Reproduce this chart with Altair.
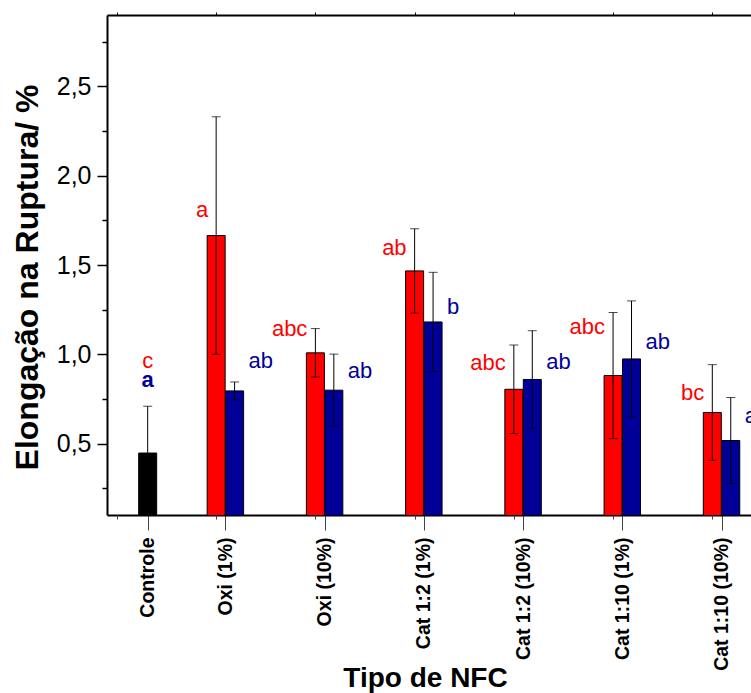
import altair as alt
import pandas as pd

# ---------------- data ----------------
categories = ["Controle", "Oxi (1%)", "Oxi (10%)", "Cat 1:2 (1%)",
              "Cat 1:2 (10%)", "Cat 1:10 (1%)", "Cat 1:10 (10%)"]

control_mean = 0.447
control_err = 0.262

red_means = [1.665, 1.008, 1.467, 0.804, 0.881, 0.674]
red_errs = [0.665, 0.136, 0.236, 0.248, 0.353, 0.268]
blue_means = [0.795, 0.799, 1.181, 0.859, 0.974, 0.517]
blue_errs = [0.050, 0.202, 0.278, 0.273, 0.325, 0.241]

red_letters = ["a", "abc", "ab", "abc", "abc", "bc"]
red_letter_y = [1.769, 1.101, 1.555, 0.911, 1.112, 0.743]
blue_letters = ["ab", "ab", "b", "ab", "ab", "ab"]
blue_letter_y = [0.922, 0.866, 1.224, 0.916, 1.028, 0.614]
control_letters = ["c", "a"]
control_letter_y = [0.922, 0.815]

y_major = [0.5, 1.0, 1.5, 2.0, 2.5]
y_minor = [0.25, 0.75, 1.25, 1.75, 2.25, 2.75]

# ---------------- layout helpers ----------------
BAR_OFFSET = 0.186
CONTROL_POS = 0.31
FONT = "Liberation Sans"
RED = "#FF0000"
BLUE = "#000099"

rows = [dict(pos=CONTROL_POS, mean=control_mean, lo=control_mean - control_err,
             hi=control_mean + control_err, series="control")]
for i in range(len(red_means)):
    rows.append(dict(pos=i + 1, mean=red_means[i], lo=red_means[i] - red_errs[i],
                     hi=red_means[i] + red_errs[i], series="red"))
    rows.append(dict(pos=i + 1 + BAR_OFFSET, mean=blue_means[i], lo=blue_means[i] - blue_errs[i],
                     hi=blue_means[i] + blue_errs[i], series="blue"))
bars_df = pd.DataFrame(rows)

red_txt = pd.DataFrame({"pos": [i + 1 for i in range(6)], "y": red_letter_y, "t": red_letters})
blue_txt = pd.DataFrame({"pos": [i + 1 + BAR_OFFSET for i in range(6)], "y": blue_letter_y, "t": blue_letters})
ctrl_red = pd.DataFrame({"pos": [CONTROL_POS], "y": [control_letter_y[0]], "t": [control_letters[0]]})
ctrl_blue = pd.DataFrame({"pos": [CONTROL_POS], "y": [control_letter_y[1]], "t": [control_letters[1]]})

label_pos = [CONTROL_POS] + [i + 1 + BAR_OFFSET / 2 for i in range(6)]
label_expr = "[" + ",".join("'" + c + "'" for c in categories) + "][round(datum.value)]"

xs = alt.Scale(domain=[-0.1, 6.39], nice=False, zero=False, padding=0)
ys = alt.Scale(domain=[0.1, 2.9], nice=False, zero=False, padding=0)

x_axis = alt.Axis(
    orient="bottom", values=label_pos, labelExpr=label_expr,
    labelAngle=270, labelAlign="right", labelBaseline="middle",
    labelFont=FONT, labelFontWeight="bold", labelFontSize=19.5, labelColor="black",
    labelPadding=7, labelOverlap=False, labelFlush=False, labelBound=False,
    tickSize=15, tickColor="#444", tickWidth=1,
    domainColor="black", domainWidth=2, grid=False,
    title="Tipo de NFC", titleFont=FONT, titleFontSize=28, titleFontWeight="bold",
    titleColor="black", titleX=318, titleY=171, titleBaseline="alphabetic", titleAlign="center",
)

y_axis = alt.Axis(
    orient="left", values=y_major, format=".1f",
    labelExpr="replace(format(datum.value, '.1f'), '.', ',')",
    tickSize=10, tickColor="black", tickWidth=1.5, domainColor="black", domainWidth=2, grid=False,
    labelFont=FONT, labelFontSize=25, labelColor="black", labelPadding=6,
    title="Elongação na Ruptura/ %", titleFont=FONT, titleFontSize=32, titleFontWeight="bold",
    titleColor="black", titleAngle=270, titleX=-80, titleY=262, titleAlign="center",
    titleBaseline="middle",
)

color = alt.Color("series:N", scale=alt.Scale(domain=["control", "red", "blue"],
                                               range=["#000000", RED, BLUE]), legend=None)

bars = alt.Chart(bars_df).mark_bar(size=18, stroke="black", strokeWidth=1, clip=True).encode(
    x=alt.X("pos:Q", scale=xs, axis=x_axis),
    y=alt.Y("mean:Q", scale=ys, axis=y_axis),
    y2=alt.datum(0),
    color=color,
)

top_axis = alt.Chart(bars_df).mark_point(opacity=0).encode(
    x=alt.X("pos:Q", scale=xs, axis=alt.Axis(orient="top", values=[0, 1, 2, 3, 4, 5, 6],
                                             labels=False, tickSize=3, tickColor="black",
                                             domainColor="black", domainWidth=2, title=None, grid=False)),
    y=alt.Y("mean:Q", scale=ys, axis=alt.Axis(orient="left", values=y_minor, labels=False,
                                              tickSize=5, tickColor="black", tickWidth=1.5,
                                              domain=False, title=None, grid=False)),
)

bottom_minor = alt.Chart(bars_df).mark_point(opacity=0).encode(
    x=alt.X("pos:Q", scale=xs, axis=alt.Axis(orient="bottom", values=[0, 1, 2, 3, 4, 5, 6],
                                             labels=False, tickSize=4, tickColor="#444",
                                             domain=False, title=None, grid=False)),
    y=alt.Y("mean:Q", scale=ys, axis=None),
)

err_rule = alt.Chart(bars_df).mark_rule(color="black", strokeWidth=1).encode(
    x=alt.X("pos:Q", scale=xs, axis=None),
    y=alt.Y("lo:Q", scale=ys, axis=None),
    y2="hi:Q",
)
cap_hi = alt.Chart(bars_df).mark_tick(orient="horizontal", size=9, thickness=1, color="black").encode(
    x=alt.X("pos:Q", scale=xs, axis=None),
    y=alt.Y("hi:Q", scale=ys, axis=None),
)
cap_lo = alt.Chart(bars_df).mark_tick(orient="horizontal", size=9, thickness=1, color="black").encode(
    x=alt.X("pos:Q", scale=xs, axis=None),
    y=alt.Y("lo:Q", scale=ys, axis=None),
)


def letters(df, align, dx, col, weight="normal"):
    return alt.Chart(df).mark_text(align=align, baseline="alphabetic", dx=dx, font=FONT,
                                   fontSize=22, fontWeight=weight, color=col, clip=True).encode(
        x=alt.X("pos:Q", scale=xs, axis=None),
        y=alt.Y("y:Q", scale=ys, axis=None),
        text="t:N",
    )


red_l = letters(red_txt, "right", -8, RED)
blue_l = letters(blue_txt, "left", 14, BLUE)
ctrl_r = letters(ctrl_red, "center", 0, RED)
ctrl_b = letters(ctrl_blue, "center", 0, BLUE, "bold")

chart = alt.layer(
    bars, err_rule, cap_hi, cap_lo, red_l, blue_l, ctrl_r, ctrl_b, top_axis, bottom_minor
).resolve_axis(x="independent", y="independent").properties(
    width=644, height=500,
    autosize=alt.AutoSizeParams(type="none"),
    padding={"left": 107, "top": 15, "right": 0, "bottom": 178},
    background="white",
).configure_view(stroke=None)

chart.save("out.html", embed_options={"renderer": "svg", "actions": False})
